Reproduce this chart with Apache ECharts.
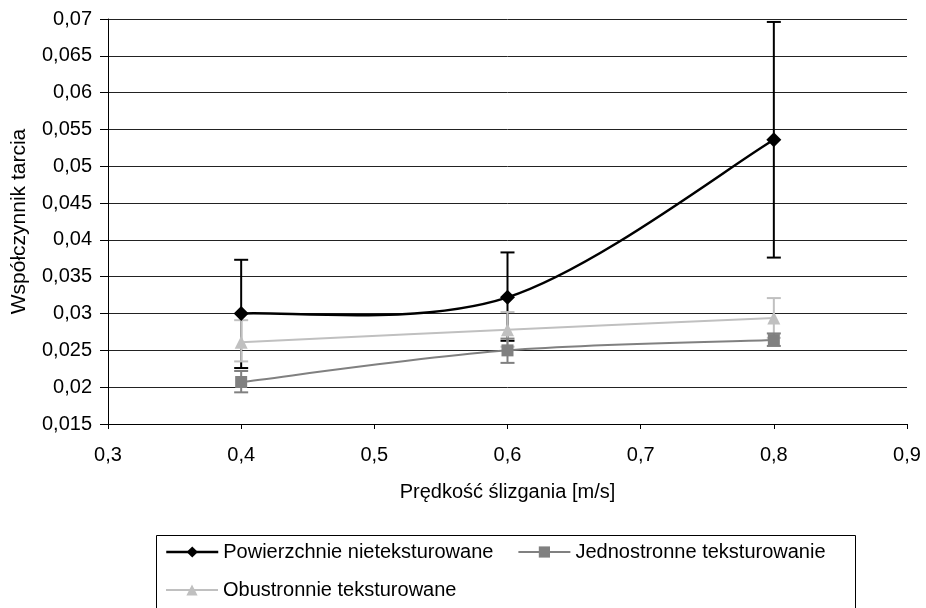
<!DOCTYPE html>
<html>
<head>
<meta charset="utf-8">
<script src="https://cdn.jsdelivr.net/npm/echarts@6/dist/echarts.min.js"></script>
<style>html,body{margin:0;padding:0;background:#fff}#c{width:926px;height:608px}</style>
</head>
<body>
<div id="c"></div>
<script>
const speeds = [0.4, 0.6, 0.8];
const xTicks = ['0,3','0,4','0,5','0,6','0,7','0,8','0,9'];
const yTicks = ['0,015','0,02','0,025','0,03','0,035','0,04','0,045','0,05','0,055','0,06','0,065','0,07'];

const nietex = [0.0300, 0.0322, 0.0536];
const nietexLow = [0.0226, 0.0263, 0.0376];
const nietexHigh = [0.0373, 0.0383, 0.0696];

const jedno = [0.0207, 0.0250, 0.0264];
const jednoLow = [0.0193, 0.0233, 0.0256];
const jednoHigh = [0.0222, 0.0266, 0.0273];

const obu = [0.0261, 0.0278, 0.0294];
const obuLow = [0.0235, 0.0255, 0.0267];
const obuHigh = [0.0291, 0.0302, 0.0321];

const names = ['Powierzchnie nieteksturowane', 'Jednostronne teksturowanie', 'Obustronnie teksturowane'];
const colors = ['#000000', '#808080', '#c0c0c0'];
const FONT = '"Liberation Sans", Arial, sans-serif';
const FS = 20;

function errSeries(name, low, high, color, z){
  return {
    type: 'custom', name: name + ' err', z: z, silent: true,
    data: speeds.map((s,i)=>[s, low[i], high[i]]),
    renderItem: function(params, api){
      const x = api.value(0);
      const lo = api.coord([x, api.value(1)]);
      const hi = api.coord([x, api.value(2)]);
      const w = 7;
      const st = {stroke: color, lineWidth: 2};
      return {type:'group', children:[
        {type:'line', shape:{x1:lo[0], y1:lo[1], x2:hi[0], y2:hi[1]}, style:st},
        {type:'line', shape:{x1:lo[0]-w, y1:lo[1], x2:lo[0]+w, y2:lo[1]}, style:st},
        {type:'line', shape:{x1:hi[0]-w, y1:hi[1], x2:hi[0]+w, y2:hi[1]}, style:st}
      ]};
    }
  };
}

// smoothed connecting curve (spreadsheet-style cardinal spline) drawn through the axis scales
function curveSeries(name, vals, color, width, z){
  return {
    type: 'custom', name: name + ' curve', z: z, silent: true,
    data: [[speeds[0], vals[0]]],
    renderItem: function(params, api){
      const p = speeds.map((s,i)=>api.coord([s, vals[i]]));
      const n = p.length;
      const children = [];
      for (let i = 0; i < n-1; i++){
        const a = p[Math.max(i-1,0)], b = p[i], c = p[i+1], d = p[Math.min(i+2,n-1)];
        children.push({type:'bezierCurve', shape:{
          x1:b[0], y1:b[1], x2:c[0], y2:c[1],
          cpx1:b[0]+(c[0]-a[0])/6, cpy1:b[1]+(c[1]-a[1])/6,
          cpx2:c[0]-(d[0]-b[0])/6, cpy2:c[1]-(d[1]-b[1])/6},
          style:{stroke:color, lineWidth:width, fill:'none'}});
      }
      return {type:'group', children:children};
    }
  };
}

function markerSeries(name, vals, color, symbol, size, z){
  return {
    type:'line', name:name, z:z,
    data: speeds.map((s,i)=>[s, vals[i]]),
    symbol: symbol, symbolSize: size, showSymbol: true,
    lineStyle:{color:color, width:2, opacity:0},
    itemStyle:{color:color, borderColor:color, borderWidth:0},
    emphasis:{disabled:true}
  };
}

function legendItem(i, w){
  return {name:names[i], lineStyle:{color:colors[i], width:w, opacity:1}};
}

const chart = echarts.init(document.getElementById('c'));
chart.setOption({
  animation:false,
  backgroundColor:'#fff',
  grid:{left:108, right:19, top:19, bottom:184},
  xAxis:{
    type:'value', min:0.3, max:0.9, interval:0.1,
    name:'Prędkość ślizgania [m/s]', nameLocation:'middle', nameGap:58,
    nameTextStyle:{fontFamily:FONT, fontSize:FS, color:'#000'},
    axisLine:{lineStyle:{color:'#000', width:1}},
    axisTick:{show:true, length:5, lineStyle:{color:'#000'}},
    axisLabel:{fontFamily:FONT, fontSize:FS, color:'#000', margin:21,
      formatter:function(v){ return xTicks[Math.round((v-0.3)/0.1)]; }},
    splitLine:{show:false}
  },
  yAxis:{
    type:'value', min:0.015, max:0.07, interval:0.005,
    name:'Współczynnik tarcia', nameLocation:'middle', nameGap:78,
    nameTextStyle:{fontFamily:FONT, fontSize:21, color:'#000'},
    axisLine:{show:true, lineStyle:{color:'#000', width:1}},
    axisTick:{show:true, length:8, inside:false, lineStyle:{color:'#000'}},
    axisLabel:{fontFamily:FONT, fontSize:FS, color:'#000', margin:16,
      formatter:function(v){ return yTicks[Math.round((v-0.015)/0.005)]; }},
    splitLine:{show:true, lineStyle:{color:'#222', width:1}}
  },
  legend:[
    {data:[legendItem(0,2.5), legendItem(1,2)], left:160, top:537, orient:'horizontal',
     itemWidth:52, itemHeight:14, itemGap:24,
     textStyle:{fontFamily:FONT, fontSize:FS, color:'#000'}},
    {data:[legendItem(2,2)], left:160, top:575, orient:'horizontal',
     itemWidth:52, itemHeight:14,
     textStyle:{fontFamily:FONT, fontSize:FS, color:'#000'}}
  ],
  graphic:[{type:'rect', shape:{x:156.5, y:535.5, width:699, height:90},
    style:{fill:'none', stroke:'#000', lineWidth:1}, silent:true}],
  series:[
    errSeries(names[0], nietexLow, nietexHigh, colors[0], 2),
    errSeries(names[2], obuLow, obuHigh, colors[2], 3),
    errSeries(names[1], jednoLow, jednoHigh, colors[1], 4),
    curveSeries(names[2], obu, colors[2], 2, 5),
    curveSeries(names[1], jedno, colors[1], 2, 6),
    curveSeries(names[0], nietex, colors[0], 2.5, 7),
    markerSeries(names[2], obu, colors[2], 'triangle', 13, 8),
    markerSeries(names[1], jedno, colors[1], 'rect', 12, 9),
    markerSeries(names[0], nietex, colors[0], 'diamond', 15, 10)
  ]
});
</script>
</body>
</html>
